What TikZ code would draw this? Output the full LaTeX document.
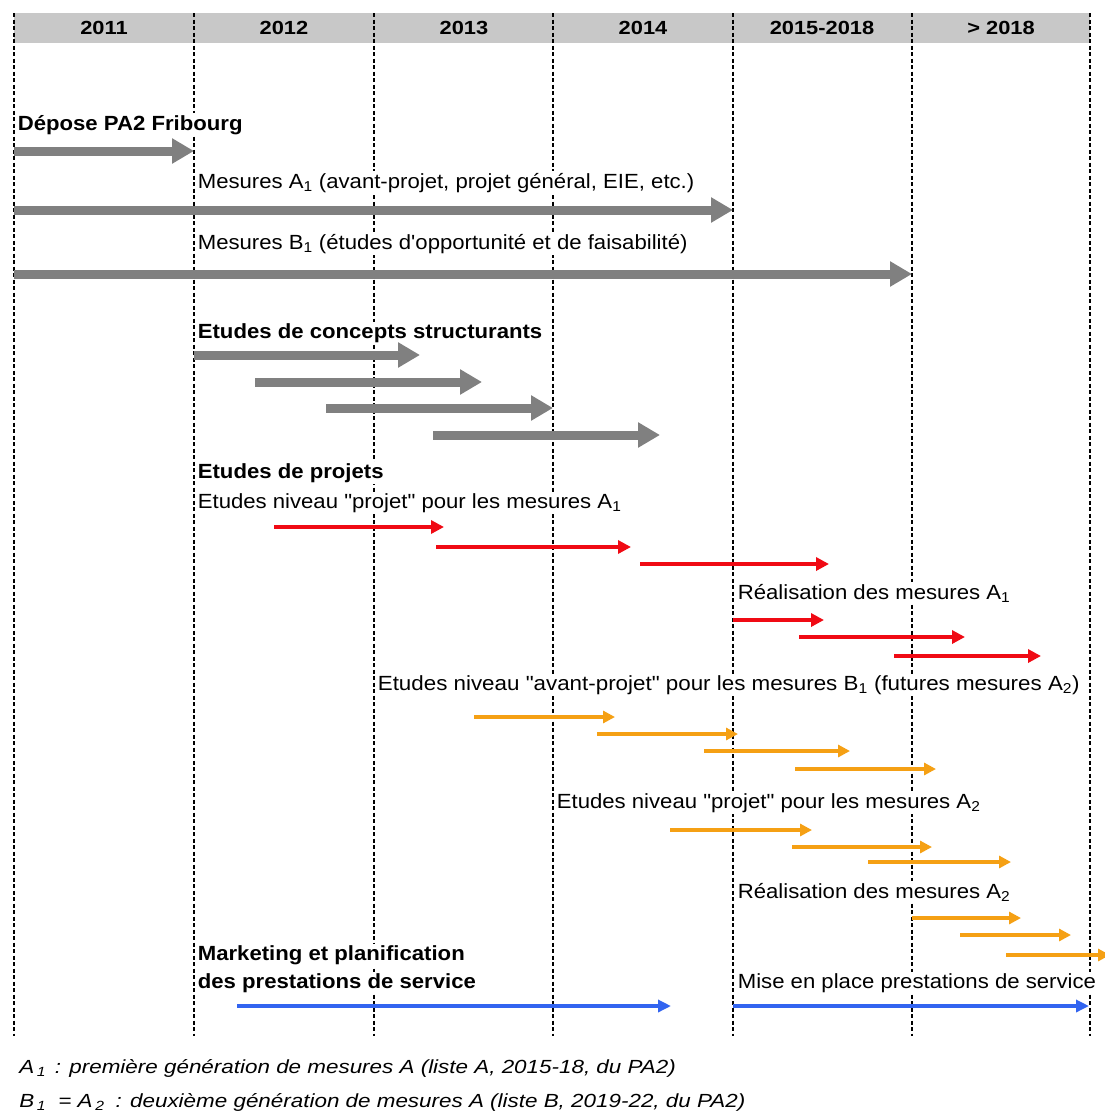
\documentclass[tikz,border=0pt]{standalone}
\usepackage{fontspec}
\setmainfont{Liberation Sans}[Ligatures=TeXOff]
\usetikzlibrary{arrows.meta}

\definecolor{hdrgray}{RGB}{200,200,200}
\definecolor{arrgray}{RGB}{128,128,128}
\definecolor{arrred}{RGB}{240,10,20}
\definecolor{arrorange}{RGB}{245,160,20}
\definecolor{arrblue}{RGB}{50,100,240}

% one horizontal bar of the planning: style, name, x start, x end, y
\newcommand\timebar[5]{%
  \coordinate (#2-s) at (#3,#5);
  \coordinate (#2-e) at (#4,#5);
  \draw[#1] (#2-s) -- (#2-e);}

\begin{document}
\begin{tikzpicture}[x=1pt,y=-1pt,
  yearline/.style={line width=1.5pt, dash pattern=on 4pt off 2.5pt, black},
  yearlbl/.style={font=\bfseries\fontsize{19}{21}\selectfont, anchor=base, xscale=1.15},
  lbl/.style={anchor=base west, fill=white, inner sep=1.5pt, xscale=1.08, font=\fontsize{20.5}{23}\selectfont},
  blbl/.style={lbl, font=\bfseries\fontsize{20.5}{23}\selectfont},
  note/.style={anchor=base west, inner sep=1pt, xscale=1.18, font=\itshape\fontsize{19}{21}\selectfont},
  graybar/.style={draw=arrgray, line width=9pt, -{Triangle[length=22pt,width=24pt]}},
  redbar/.style={draw=arrred, line width=4.5pt, -{Triangle[length=13pt,width=13pt]}},
  orangebar/.style={draw=arrorange, line width=4pt, -{Triangle[length=12pt,width=12pt]}},
  bluebar/.style={draw=arrblue, line width=4pt, -{Triangle[length=13pt,width=12pt]}}]

\useasboundingbox (0,0) rectangle (1104,1111);
\fill[white] (0,0) rectangle (1104,1111);

% header band
\fill[hdrgray] (14,13) rectangle (1090,43);

% year separators
\foreach \n/\x in {a/14,b/194,c/374,d/553,e/733,f/912,g/1090}{
  \coordinate (top\n) at (\x,13);
  \coordinate (bot\n) at (\x,1036);
  \draw[yearline] (top\n) -- (bot\n);
}

% year labels
\node[yearlbl] (y2011) at (104,34) {2011};
\node[yearlbl] (y2012) at (284,34) {2012};
\node[yearlbl] (y2013) at (464,34) {2013};
\node[yearlbl] (y2014) at (643,34) {2014};
\node[yearlbl] (y2015) at (822,34) {2015-2018};
\node[yearlbl] (y2018) at (1001,34) {> 2018};

% texts
\node[blbl] (depose) at (16,130) {Dépose PA2 Fribourg};
\node[lbl] (mesA) at (196,188) {Mesures A\textsubscript{1} (avant-projet, projet général, EIE, etc.)};
\node[lbl] (mesB) at (196,249) {Mesures B\textsubscript{1} (études d'opportunité et de faisabilité)};
\node[blbl] (concepts) at (196,338) {Etudes de concepts structurants};
\node[blbl] (projets) at (196,478) {Etudes de projets};
\node[lbl] (projA1) at (196,508) {Etudes niveau "projet" pour les mesures A\textsubscript{1}};
\node[lbl] (realA1) at (736,599) {Réalisation des mesures A\textsubscript{1}};
\node[lbl, xscale=1.01] (avpB1) at (376,690) {Etudes niveau "avant-projet" pour les mesures B\textsubscript{1} (futures mesures A\textsubscript{2})};
\node[lbl] (projA2) at (555,808) {Etudes niveau "projet" pour les mesures A\textsubscript{2}};
\node[lbl] (realA2) at (736,898) {Réalisation des mesures A\textsubscript{2}};
\node[blbl] (mkt1) at (196,960) {Marketing et planification};
\node[blbl] (mkt2) at (196,988) {des prestations de service};
\node[lbl] (mise) at (736,988) {Mise en place prestations de service};

% grey bars
\timebar{graybar}{g1}{14}{194}{151}
\timebar{graybar}{g2}{14}{733}{210}
\timebar{graybar}{g3}{14}{912}{274}
\timebar{graybar}{g4}{194}{420}{355}
\timebar{graybar}{g5}{255}{482}{382}
\timebar{graybar}{g6}{326}{553}{408}
\timebar{graybar}{g7}{433}{660}{435}

% red bars
\timebar{redbar}{r1}{274}{444}{527}
\timebar{redbar}{r2}{436}{631}{547}
\timebar{redbar}{r3}{640}{829}{564}
\timebar{redbar}{r4}{733}{824}{620}
\timebar{redbar}{r5}{799}{965}{637}
\timebar{redbar}{r6}{894}{1041}{656}

% orange bars
\timebar{orangebar}{o1}{474}{615}{717}
\timebar{orangebar}{o2}{597}{738}{734}
\timebar{orangebar}{o3}{704}{850}{751}
\timebar{orangebar}{o4}{795}{936}{769}
\timebar{orangebar}{o5}{670}{812}{830}
\timebar{orangebar}{o6}{792}{932}{847}
\timebar{orangebar}{o7}{868}{1011}{862}
\timebar{orangebar}{o8}{912}{1021}{918}
\timebar{orangebar}{o9}{960}{1071}{935}
\timebar{orangebar}{o10}{1006}{1110}{955}

% blue bars
\timebar{bluebar}{b1}{237}{671}{1006}
\timebar{bluebar}{b2}{733}{1089}{1006}

% notes
\node[note] (n1) at (18,1073) {A\textsubscript{\,1}\hspace{2pt} : première génération de mesures A (liste A, 2015-18, du PA2)};
\node[note] (n2) at (18,1107) {B\textsubscript{\,1}\hspace{5pt} = A\textsubscript{\,2}\hspace{4pt} : deuxième génération de mesures A (liste B, 2019-22, du PA2)};
\end{tikzpicture}
\end{document}
